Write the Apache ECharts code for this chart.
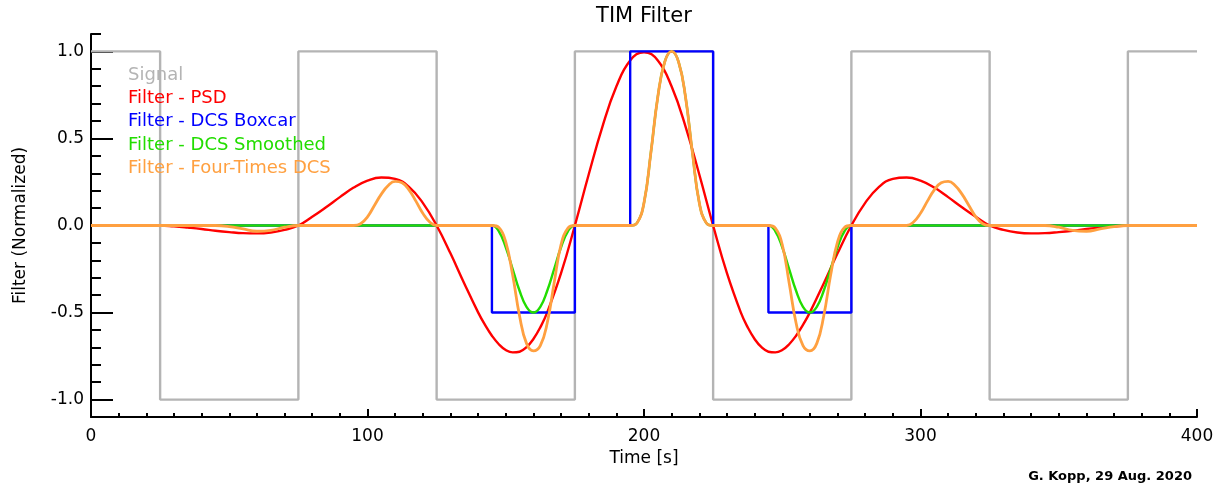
<!DOCTYPE html>
<html>
<head>
<meta charset="utf-8">
<title>TIM Filter</title>
<script src="https://cdn.jsdelivr.net/npm/echarts@6/dist/echarts.min.js"></script>
<style>
  html, body { margin: 0; padding: 0; background: #fff; }
  #chart { width: 1222px; height: 486px; }
</style>
</head>
<body>
<div id="chart"></div>
<script>
// square-wave signal (step corners)
var signalTime  = [0, 25, 25, 75, 75, 125, 125, 175, 175, 225, 225, 275, 275, 325, 325, 375, 375, 400];
var signalValue = [1, 1, -1, -1, 1, 1, -1, -1, 1, 1, -1, -1, 1, 1, -1, -1, 1, 1];

// PSD filter, read every 5 s (2.5 s around the two minima)
var psdTime = [0, 5, 10, 15, 20, 25, 30, 35, 40, 45, 50, 55, 60, 65, 70, 75, 80, 85, 90, 95,
  100, 105, 110, 115, 120, 125, 130, 135, 140, 142.5, 145, 147.5, 150, 152.5, 155, 157.5, 160, 162.5, 165, 170, 175,
  180, 185, 190, 195, 200, 205, 210, 215, 220, 225,
  230, 235, 237.5, 240, 242.5, 245, 247.5, 250, 252.5, 255, 257.5, 260, 265, 270, 275, 280, 285, 290, 295,
  300, 305, 310, 315, 320, 325, 330, 335, 340, 345, 350, 355, 360, 365, 370, 375, 380, 385, 390, 395, 400];
var psdValue = [0, 0, 0, 0, 0, 0, -0.005, -0.012, -0.02, -0.03, -0.038, -0.044, -0.045, -0.04, -0.025, 0, 0.05, 0.105, 0.163, 0.218,
  0.258, 0.276, 0.268, 0.222, 0.13, 0, -0.16, -0.333, -0.499, -0.571, -0.633, -0.682, -0.715, -0.729, -0.725, -0.699, -0.652, -0.585, -0.499, -0.274, 0,
  0.293, 0.57, 0.798, 0.948, 0.995, 0.948, 0.798, 0.57, 0.293, 0,
  -0.274, -0.499, -0.585, -0.652, -0.699, -0.725, -0.729, -0.715, -0.682, -0.633, -0.571, -0.499, -0.333, -0.16, 0, 0.13, 0.222, 0.268, 0.276,
  0.258, 0.218, 0.163, 0.105, 0.05, 0, -0.025, -0.04, -0.045, -0.044, -0.038, -0.03, -0.02, -0.012, -0.005, 0, 0, 0, 0, 0, 0];

// DCS boxcar (step corners)
var boxTime  = [0, 145, 145, 175, 175, 195, 195, 225, 225, 245, 245, 275, 275, 400];
var boxValue = [0, 0, -0.5, -0.5, 0, 0, 1, 1, 0, 0, -0.5, -0.5, 0, 0];

// DCS smoothed
var smoothTime = [0, 145, 147.5, 150, 152.5, 155, 157.5, 160, 162.5, 165, 167.5, 170, 172.5, 175,
  195, 197.5, 200, 202.5, 205, 207.5, 210, 212.5, 215, 217.5, 220, 222.5, 225,
  245, 247.5, 250, 252.5, 255, 257.5, 260, 262.5, 265, 267.5, 270, 272.5, 275, 400];
var smoothValue = [0, 0, -0.033, -0.125, -0.25, -0.375, -0.467, -0.5, -0.467, -0.375, -0.25, -0.125, -0.033, 0,
  0, 0.015, 0.13, 0.42, 0.74, 0.94, 1, 0.94, 0.74, 0.42, 0.13, 0.015, 0,
  0, -0.033, -0.125, -0.25, -0.375, -0.467, -0.5, -0.467, -0.375, -0.25, -0.125, -0.033, 0, 0];

// four-times DCS
var fourTime = [0, 45, 50, 55, 60, 65, 70, 75,
  95, 97.5, 100, 102.5, 105, 107.5, 110, 112.5, 115, 117.5, 120, 122.5, 125,
  145, 147.5, 150, 152.5, 155, 157.5, 160, 162.5, 165, 167.5, 170, 172.5, 175,
  195, 197.5, 200, 202.5, 205, 207.5, 210, 212.5, 215, 217.5, 220, 222.5, 225,
  245, 247.5, 250, 252.5, 255, 257.5, 260, 262.5, 265, 267.5, 270, 272.5, 275,
  295, 297.5, 300, 302.5, 305, 307.5, 310, 312.5, 315, 317.5, 320, 322.5, 325,
  345, 350, 355, 360, 365, 370, 375, 400];
var fourValue = [0, 0, -0.006, -0.02, -0.033, -0.028, -0.01, 0,
  0, 0.01, 0.05, 0.115, 0.18, 0.23, 0.253, 0.245, 0.205, 0.14, 0.07, 0.02, 0,
  0, -0.011, -0.094, -0.285, -0.52, -0.677, -0.72, -0.69, -0.56, -0.33, -0.11, -0.015, 0,
  0, 0.015, 0.13, 0.42, 0.74, 0.94, 1, 0.94, 0.74, 0.42, 0.13, 0.015, 0,
  0, -0.015, -0.11, -0.33, -0.56, -0.69, -0.72, -0.677, -0.52, -0.285, -0.094, -0.011, 0,
  0, 0.02, 0.07, 0.14, 0.205, 0.245, 0.253, 0.23, 0.18, 0.115, 0.05, 0.01, 0,
  0, -0.01, -0.028, -0.033, -0.02, -0.006, 0, 0];

var xTicks = [0, 100, 200, 300, 400];
var yTicks = [-1, -0.5, 0, 0.5, 1];

function pairs(ts, vs) {
    var out = [];
    for (var i = 0; i < ts.length; i++) out.push([ts[i], vs[i]]);
    return out;
}

var FONT = 'DejaVu Sans';
var chart = echarts.init(document.getElementById('chart'));

function lineSeries(name, color, width, data, smooth) {
    return {
        name: name,
        type: 'line',
        data: data,
        showSymbol: false,
        symbol: 'none',
        smooth: smooth ? 0.45 : false,
        lineStyle: { color: color, width: width },
        itemStyle: { color: color },
        animation: false
    };
}

var legendColors = ['#b4b4b4', '#ff0000', '#0000ff', '#22dd00', '#ffa040'];
var names = ['Signal', 'Filter - PSD', 'Filter - DCS Boxcar', 'Filter - DCS Smoothed', 'Filter - Four-Times DCS'];

chart.setOption({
    backgroundColor: '#fff',
    animation: false,
    textStyle: { fontFamily: FONT },
    grid: { left: 91, right: 25, top: 34, bottom: 69 },
    legend: {
        orient: 'vertical',
        left: 123,
        top: 65,
        padding: 0,
        itemGap: 3.3,
        itemWidth: 0,
        itemHeight: 20,
        icon: 'none',
        selectedMode: false,
        textStyle: { fontSize: 18, fontFamily: FONT, lineHeight: 20 },
        data: names.map(function (n, i) {
            return { name: n, textStyle: { color: legendColors[i] } };
        })
    },
    xAxis: {
        type: 'value',
        min: 0,
        max: 400,
        interval: 100,
        name: 'Time [s]',
        nameLocation: 'middle',
        nameGap: 32,
        nameTextStyle: { color: '#000', fontSize: 17, fontFamily: FONT },
        axisLine: { show: true, onZero: false, lineStyle: { color: '#000', width: 2 } },
        axisTick: { show: true, inside: true, length: 8, lineStyle: { color: '#000', width: 2 } },
        minorTick: { show: true, splitNumber: 10, length: 4, lineStyle: { color: '#000', width: 2 } },
        axisLabel: { color: '#000', fontSize: 17, margin: 11, fontFamily: FONT,
            customValues: xTicks },
        splitLine: { show: false },
        minorSplitLine: { show: false }
    },
    yAxis: [{
        type: 'value',
        position: 'left',
        min: -1.1,
        max: 1.1,
        interval: 0.1,
        name: 'Filter (Normalized)',
        nameLocation: 'middle',
        nameGap: 62,
        nameRotate: 90,
        nameTextStyle: { color: '#000', fontSize: 17, fontFamily: FONT },
        axisLine: { show: true, onZero: false, lineStyle: { color: '#000', width: 2 } },
        axisTick: { show: true, inside: true, length: 10, lineStyle: { color: '#000', width: 2 } },
        axisLabel: { color: '#000', fontSize: 17, margin: 7, fontFamily: FONT,
            customValues: yTicks,
            formatter: function (v) { return (Math.round(v * 10) / 10).toFixed(1); } },
        splitLine: { show: false }
    }, {
        type: 'value',
        position: 'left',
        offset: 0,
        min: -1.1,
        max: 1.1,
        interval: 0.1,
        axisLine: { show: false },
        axisTick: { show: true, inside: true, length: 22, customValues: yTicks,
            lineStyle: { color: '#000', width: 2 } },
        axisLabel: { show: false },
        splitLine: { show: false }
    }],
    graphic: [{
        type: 'text',
        x: 644,
        y: 17,
        style: { text: 'TIM Filter', font: '21px "DejaVu Sans"', fill: '#000',
            align: 'center', verticalAlign: 'middle' }
    }, {
        type: 'text',
        x: 1192,
        y: 477,
        style: { text: 'G. Kopp, 29 Aug. 2020', font: 'bold 13px "DejaVu Sans"', fill: '#000',
            align: 'right', verticalAlign: 'middle' }
    }],
    series: [
        lineSeries(names[0], legendColors[0], 2.4, pairs(signalTime, signalValue), false),
        lineSeries(names[1], legendColors[1], 2.4, pairs(psdTime, psdValue), true),
        lineSeries(names[2], legendColors[2], 2.4, pairs(boxTime, boxValue), false),
        lineSeries(names[3], legendColors[3], 2.4, pairs(smoothTime, smoothValue), true),
        lineSeries(names[4], legendColors[4], 2.8, pairs(fourTime, fourValue), true)
    ]
});
</script>
</body>
</html>
